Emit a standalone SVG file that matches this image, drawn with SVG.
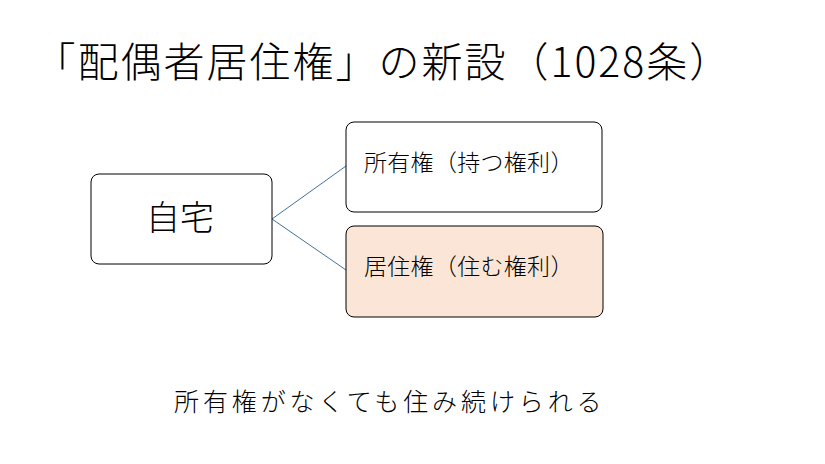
<svg xmlns="http://www.w3.org/2000/svg" width="825" height="464" viewBox="0 0 825 464">
<style>
text{font-family:"Noto Sans CJK JP","Noto Sans",sans-serif;fill:#000;font-weight:300}
.box{stroke:#000;stroke-width:1;fill:#fff}
.conn{stroke:#41719C;stroke-width:1;fill:none}
</style>
<rect width="825" height="464" fill="#fff"/>
<g id="title"><text x="34.5" y="77" font-size="41" letter-spacing="2">「配偶者居住権」の新設（1028条）</text></g>
<g id="connectors">
<line class="conn" x1="272" y1="219" x2="346" y2="166"/>
<line class="conn" x1="272" y1="219" x2="346" y2="270"/>
</g>
<g id="node-home">
<rect class="box" x="91" y="174" width="181" height="90" rx="8"/>
<text x="146" y="230" font-size="34">自宅</text>
</g>
<g id="node-ownership">
<rect class="box" x="346" y="122" width="256" height="90" rx="8"/>
<text x="364" y="171" font-size="23" letter-spacing="0.3">所有権（持つ権利）</text>
</g>
<g id="node-residence">
<rect class="box" x="346" y="226" width="257" height="91" rx="8" style="fill:#FBE5D6"/>
<text x="364" y="275" font-size="23" letter-spacing="0.3">居住権（住む権利）</text>
</g>
<g id="caption"><text x="174" y="411" font-size="25" letter-spacing="3.9">所有権がなくても住み続けられる</text></g>
</svg>
